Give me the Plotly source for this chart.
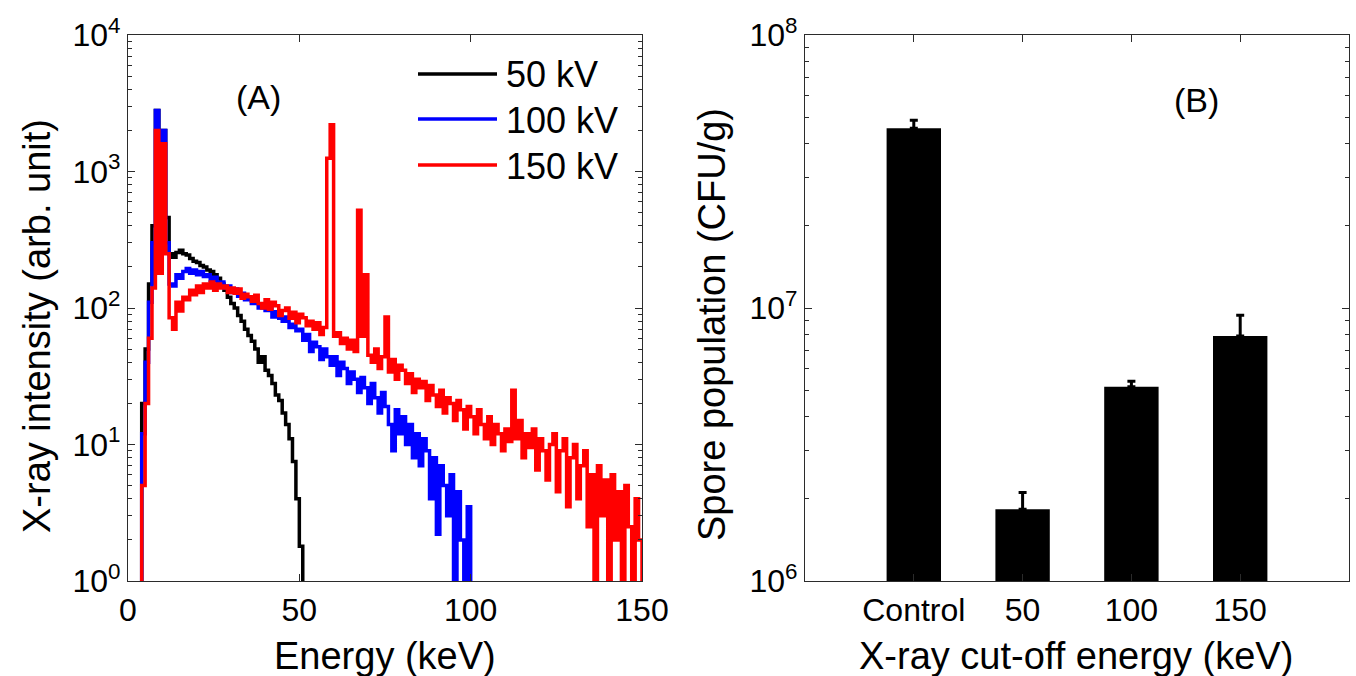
import plotly.graph_objects as go

# ---- Panel A: X-ray spectra (1 keV bins) ----
energy_50 = list(range(1, 52))
intensity_50 = [
    0.3, 0.3, 0.5, 20, 50, 150, 400, 2800, 900, 2000,
    460, 250, 235, 255, 265, 250, 245, 230, 220, 215,
    205, 200, 190, 185, 175, 165, 150, 135, 120, 108,
    100, 88, 80, 70, 63, 57, 50, 40, 44, 35,
    32, 28, 23, 21, 17, 14, 11, 7.5, 4, 1.8,
    0.3,
]

energy_100 = list(range(1, 101))
intensity_100 = [
    0.3, 0.3, 0.3, 12, 40, 110, 300, 2800, 1200, 2000,
    300, 150, 145, 175, 165, 185, 195, 180, 190, 175,
    185, 170, 175, 160, 168, 150, 155, 140, 145, 130,
    138, 122, 128, 115, 118, 108, 112, 100, 104, 96,
    100, 86, 94, 84, 80, 86, 72, 76, 68, 70,
    58, 64, 48, 56, 52, 42, 50, 44, 38, 44,
    32, 40, 36, 28, 34, 30, 24, 31, 26, 20,
    28, 22, 17, 24, 19, 14, 9, 18, 12, 16,
    10, 14, 8, 12, 7, 11, 9, 4, 8, 2.2,
    7, 5, 3, 6, 0.6, 4.5, 2, 0.6, 3.5, 0.3,
]

energy_150 = list(range(1, 151))
intensity_150 = [
    0.3, 0.3, 0.5, 5, 20, 60, 140, 2000, 180, 1600,
    250, 85, 70, 110, 95, 120, 115, 135, 125, 145,
    130, 150, 140, 155, 135, 150, 140, 145, 130, 140,
    128, 138, 118, 126, 121, 112, 124, 108, 100, 115,
    98, 110, 104, 88, 96, 100, 84, 93, 78, 90,
    85, 74, 80, 70, 78, 64, 72, 1250, 2200, 62,
    66, 55, 60, 50, 58, 48, 520, 62, 175, 45,
    40, 50, 36, 44, 86, 34, 42, 30, 38, 35,
    28, 33, 24, 30, 26, 29, 21, 27, 23, 19,
    25, 17, 22, 20, 15, 21, 18, 13, 19, 16,
    12, 18, 14, 11, 16, 10, 14, 12, 9, 13,
    10.5, 25, 11, 15, 8, 12, 9.5, 13, 6.5, 11,
    9, 5.5, 10, 12, 4.5, 9, 11, 3.5, 8, 10,
    4, 7, 9, 2.5, 6, 0.5, 7, 3, 5.5, 0.5,
    6, 2, 4.5, 0.5, 5, 2.5, 0.5, 4, 2, 0.3,
]

spectra = [
    ("50 kV", energy_50, intensity_50, "#000000"),
    ("100 kV", energy_100, intensity_100, "#0000ff"),
    ("150 kV", energy_150, intensity_150, "#ff0000"),
]

# ---- Panel B: spore population ----
cutoff_labels = ["Control", "50", "100", "150"]
cutoff_pos = [1, 2, 3, 4]
spore_mean = [4.55e7, 1.83e6, 5.15e6, 7.9e6]
spore_err = [3.2e6, 0.28e6, 0.24e6, 1.5e6]

FONT = "Liberation Sans, Arial, sans-serif"
AXIS_COLOR = "#2b2b2b"
LINE_W = 3.5

fig = go.Figure()

for name, e, inten, color in spectra:
    fig.add_trace(go.Scatter(
        x=e, y=inten, name=name, mode="lines",
        line=dict(color=color, width=LINE_W, shape="hv"),
        showlegend=False, xaxis="x", yaxis="y",
    ))

fig.add_trace(go.Bar(
    x=cutoff_pos, y=spore_mean, width=0.5,
    marker=dict(color="#000000", line=dict(width=0)),
    error_y=dict(type="data", symmetric=False, array=spore_err,
                 arrayminus=[0] * len(spore_err),
                 color="#000000", thickness=3, width=4),
    showlegend=False, xaxis="x2", yaxis="y2",
))

W, H = 1356, 676
def px_x(p):
    return p / W
def px_y(p):
    return (H - p) / H

left_dom = [px_x(128), px_x(642)]
right_dom = [px_x(805), px_x(1349)]
y_dom = [px_y(581), px_y(35)]

minor_a = [m * 10 ** k for k in range(0, 4) for m in range(2, 10)]
minor_b = [m * 10 ** k for k in range(6, 8) for m in range(2, 10)]

axis_common = dict(
    showline=True, linecolor=AXIS_COLOR, linewidth=1.2, mirror="ticks",
    ticks="inside", tickcolor=AXIS_COLOR, ticklen=7, tickwidth=1.2,
    showgrid=False, zeroline=False, automargin=False,
    tickfont=dict(family=FONT, size=32, color="#000000"),
)

fig.update_layout(
    width=W, height=H,
    margin=dict(l=0, r=0, t=0, b=0, autoexpand=False),
    paper_bgcolor="white", plot_bgcolor="white",
    font=dict(family=FONT, color="#000000"),
    barmode="overlay",
    showlegend=False,
    xaxis=dict(domain=left_dom, range=[0, 150], tickvals=[0, 50, 100, 150],
               anchor="y", **axis_common),
    yaxis=dict(domain=y_dom, type="log", range=[0, 4],
               tickvals=[1, 10, 100, 1000, 10000],
               ticktext=["10<sup>%d</sup>" % k for k in range(0, 5)],
               minor=dict(tickvals=minor_a, ticks="inside", ticklen=4,
                          tickcolor=AXIS_COLOR, showgrid=False),
               anchor="x", **axis_common),
    xaxis2=dict(domain=right_dom, range=[0, 5], tickvals=cutoff_pos,
                ticktext=cutoff_labels, anchor="y2", **axis_common),
    yaxis2=dict(domain=y_dom, type="log", range=[6, 8],
                tickvals=[1e6, 1e7, 1e8],
                ticktext=["10<sup>%d</sup>" % k for k in range(6, 9)],
                minor=dict(tickvals=minor_b, ticks="inside", ticklen=4,
                           tickcolor=AXIS_COLOR, showgrid=False),
                anchor="x2", **axis_common),
)

def label(text, x, y, size, angle=0, xanchor="center"):
    fig.add_annotation(text=text, x=px_x(x), y=px_y(y), textangle=angle,
                       xanchor=xanchor, yanchor="middle",
                       font=dict(family=FONT, size=size, color="#000000"),
                       showarrow=False, xref="paper", yref="paper")

# Legend for the spectra: a line sample and its label per tube voltage
legend_rows = [74, 119, 165]
for (name, _, _, color), row in zip(spectra, legend_rows):
    fig.add_shape(type="line", xref="paper", yref="paper",
                  x0=px_x(418), x1=px_x(497), y0=px_y(row), y1=px_y(row),
                  line=dict(color=color, width=LINE_W))
    label(name, 504, row + 1, 36, xanchor="left")

label("(A)", 258, 97, 34)
label("(B)", 1196, 100, 34)
label("Energy (keV)", 385, 656, 38)
label("X-ray cut-off energy (keV)", 1076, 656, 38)
label("X-ray intensity (arb. unit)", 37, 326, 38, -90)
label("Spore population (CFU/g)", 712, 325, 38, -90)

fig.write_html("out.html")
